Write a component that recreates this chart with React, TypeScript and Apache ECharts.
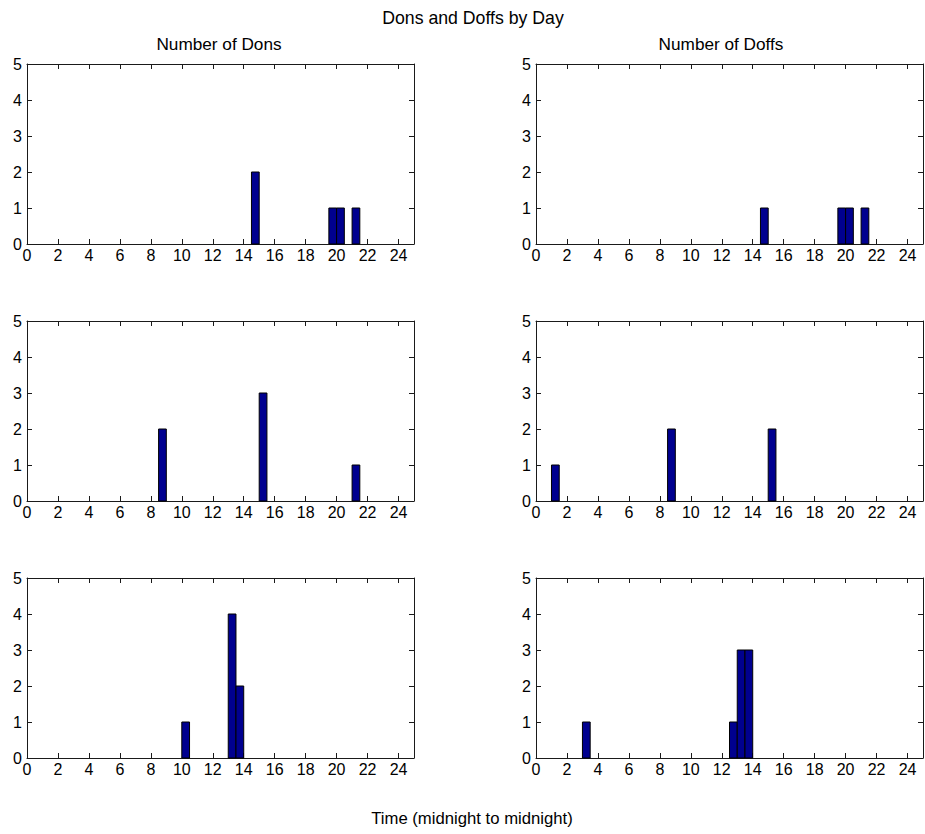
import React, { useEffect, useRef } from "react";
import * as echarts from "echarts";

// Half-hour bin starts (hours) and counts for each panel
const donsDay1Starts = [14.5, 19.5, 20.0, 21.0];
const donsDay1Counts = [2, 1, 1, 1];
const doffsDay1Starts = [14.5, 19.5, 20.0, 21.0];
const doffsDay1Counts = [1, 1, 1, 1];
const donsDay2Starts = [8.5, 15.0, 21.0];
const donsDay2Counts = [2, 3, 1];
const doffsDay2Starts = [1.0, 8.5, 15.0];
const doffsDay2Counts = [1, 2, 2];
const donsDay3Starts = [10.0, 13.0, 13.5];
const donsDay3Counts = [1, 4, 2];
const doffsDay3Starts = [3.0, 12.5, 13.0, 13.5];
const doffsDay3Counts = [1, 1, 3, 3];

const binWidth = 0.5;
const xMin = 0;
const xMax = 25;
const xInterval = 2;
const yMin = 0;
const yMax = 5;
const yInterval = 1;

const mainTitle = "Dons and Doffs by Day";
const leftTitle = "Number of Dons";
const rightTitle = "Number of Doffs";
const xLabel = "Time (midnight to midnight)";

const panels = [
  [donsDay1Starts, donsDay1Counts],
  [doffsDay1Starts, doffsDay1Counts],
  [donsDay2Starts, donsDay2Counts],
  [doffsDay2Starts, doffsDay2Counts],
  [donsDay3Starts, donsDay3Counts],
  [doffsDay3Starts, doffsDay3Counts],
];

const FONT = "'Liberation Sans', Arial, sans-serif";
const AXIS_COLOR = "#1a1a1a";

export default function App() {
  const ref = useRef<HTMLDivElement>(null);
  useEffect(() => {
    if (!ref.current) return;
    const chart = echarts.init(ref.current, null, { renderer: "svg" });
    const lefts = [27, 536];
    const tops = [64, 321, 578];
    const grids: any[] = [];
    const xAxes: any[] = [];
    const yAxes: any[] = [];
    const series: any[] = [];
    panels.forEach((p, i) => {
      const col = i % 2;
      const row = Math.floor(i / 2);
      grids.push({ left: lefts[col], top: tops[row], width: 387, height: 180, containLabel: false });
      const baseX = {
        type: "value",
        gridIndex: i,
        min: xMin,
        max: xMax,
        interval: xInterval,
        axisLine: { show: true, onZero: false, lineStyle: { color: AXIS_COLOR, width: 1 } },
        axisTick: { show: true, inside: true, length: 5, lineStyle: { color: AXIS_COLOR } },
        splitLine: { show: false },
      };
      xAxes.push({
        ...baseX,
        position: "bottom",
        axisLabel: { show: true, showMaxLabel: false, margin: 3, color: "#000", fontSize: 16, fontFamily: FONT },
      });
      xAxes.push({ ...baseX, position: "top", axisLabel: { show: false } });
      const baseY = {
        type: "value",
        gridIndex: i,
        min: yMin,
        max: yMax,
        interval: yInterval,
        axisLine: { show: true, onZero: false, lineStyle: { color: AXIS_COLOR, width: 1 } },
        axisTick: { show: true, inside: true, length: 5, lineStyle: { color: AXIS_COLOR } },
        splitLine: { show: false },
      };
      yAxes.push({
        ...baseY,
        position: "left",
        axisLabel: { show: true, margin: 5, color: "#000", fontSize: 16, fontFamily: FONT },
      });
      yAxes.push({ ...baseY, position: "right", axisLabel: { show: false } });
      const starts = p[0] as number[];
      const counts = p[1] as number[];
      series.push({
        type: "custom",
        xAxisIndex: i * 2,
        yAxisIndex: i * 2,
        data: starts.map((s, k) => [s, counts[k]]),
        renderItem: (params: any, api: any) => {
          const s = api.value(0);
          const c = api.value(1);
          const p0 = api.coord([s, c]);
          const p1 = api.coord([s + binWidth, 0]);
          return {
            type: "rect",
            shape: { x: p0[0], y: p0[1], width: p1[0] - p0[0], height: p1[1] - p0[1] },
            style: { fill: "#00008F", stroke: "#000", lineWidth: 1 },
          };
        },
      });
    });
    const mk = (size: number) => ({ color: "#000", fontSize: size, fontWeight: "normal", fontFamily: FONT });
    chart.setOption({
      animation: false,
      backgroundColor: "#fff",
      title: [
        { text: mainTitle, left: 473, top: 9, textAlign: "center", padding: 0, textStyle: mk(17.7) },
        { text: leftTitle, left: 219, top: 35, textAlign: "center", padding: 0, textStyle: mk(17.2) },
        { text: rightTitle, left: 721, top: 35, textAlign: "center", padding: 0, textStyle: mk(17.2) },
        { text: xLabel, left: 472, top: 810, textAlign: "center", padding: 0, textStyle: mk(16.7) },
      ],
      grid: grids,
      xAxis: xAxes,
      yAxis: yAxes,
      series,
    });
    return () => chart.dispose();
  }, []);
  return <div ref={ref} style={{ width: 925, height: 834, position: "absolute", left: 0, top: 0 }} />;
}
